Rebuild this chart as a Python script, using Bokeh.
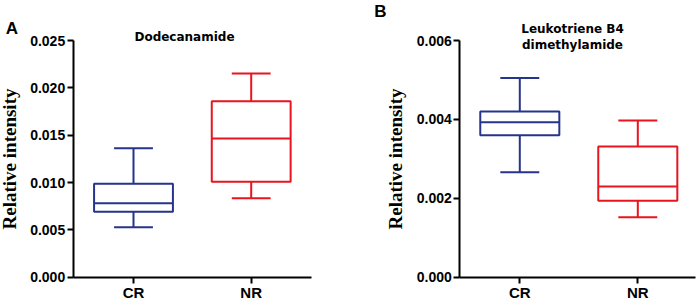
from bokeh.plotting import figure
from bokeh.layouts import row
from bokeh.models import Range1d, FixedTicker, NumeralTickFormatter, Label
from bokeh.embed import file_html
from bokeh.resources import INLINE

groups = ["CR", "NR"]
colors = ["#27348B", "#E8141E"]

# Panel A: Dodecanamide
a_low = [0.00528, 0.00835]
a_q1 = [0.00691, 0.01008]
a_med = [0.00782, 0.01465]
a_q3 = [0.00987, 0.01859]
a_high = [0.01363, 0.02152]
a_ticks = [0.0, 0.005, 0.010, 0.015, 0.020, 0.025]

# Panel B: Leukotriene B4 dimethylamide
b_low = [0.00266, 0.00152]
b_q1 = [0.00360, 0.00194]
b_med = [0.00393, 0.00230]
b_q3 = [0.00420, 0.00331]
b_high = [0.00505, 0.00397]
b_ticks = [0.0, 0.002, 0.004, 0.006]

W, H = 350, 303


def panel(low, q1, med, q3, high, ticks, geom, title_lines, letter, letter_px):
    # geom: pixel positions within this panel's canvas
    ax_left, ax_right, cat1_px, cat2_px, y0_px, ytop_px = geom
    ymax = ticks[-1]
    xs = list(range(1, len(groups) + 1))
    ppu_x = (cat2_px - cat1_px) / (xs[1] - xs[0])
    x_start = xs[0] - cat1_px / ppu_x
    ppu_y = (y0_px - ytop_px) / ymax
    y_end = y0_px / ppu_y
    y_start = -(H - y0_px) / ppu_y

    def dx(px):
        return x_start + px / ppu_x

    def dy(py):
        return (y0_px - py) / ppu_y

    p = figure(width=W, height=H, output_backend="svg", toolbar_location=None,
               x_range=Range1d(x_start, x_start + W / ppu_x),
               y_range=Range1d(y_start, y_end),
               min_border=0, min_border_left=0, min_border_right=0,
               min_border_top=0, min_border_bottom=0)
    p.outline_line_color = None
    p.xgrid.visible = False
    p.ygrid.visible = False
    bw = 0.335
    cw = 0.165
    for i, x in enumerate(xs):
        c = colors[i]
        p.segment(x0=[x], y0=[low[i]], x1=[x], y1=[q1[i]], line_color=c, line_width=2)
        p.segment(x0=[x], y0=[q3[i]], x1=[x], y1=[high[i]], line_color=c, line_width=2)
        p.segment(x0=[x - cw, x - cw], y0=[low[i], high[i]], x1=[x + cw, x + cw],
                  y1=[low[i], high[i]], line_color=c, line_width=2)
        p.quad(left=[x - bw], right=[x + bw], bottom=[q1[i]], top=[q3[i]],
               fill_color="white", line_color=c, line_width=2)
        p.segment(x0=[x - bw], y0=[med[i]], x1=[x + bw], y1=[med[i]], line_color=c, line_width=2)

    xaxis = p.xaxis[0]
    yaxis = p.yaxis[0]
    xaxis.fixed_location = 0.0
    xaxis.bounds = (dx(ax_left), dx(ax_right))
    yaxis.fixed_location = dx(ax_left)
    yaxis.bounds = (0.0, ymax)
    for ax in (xaxis, yaxis):
        ax.axis_line_width = 2
        ax.axis_line_color = "black"
        ax.major_tick_line_width = 2
        ax.major_tick_line_color = "black"
        ax.major_tick_out = 6
        ax.major_tick_in = 0
        ax.minor_tick_line_color = None
        ax.major_label_text_font = "Liberation Sans"
        ax.major_label_text_font_style = "bold"
        ax.major_label_text_color = "black"
    xaxis.ticker = FixedTicker(ticks=xs)
    xaxis.major_label_overrides = {x: g for x, g in zip(xs, groups)}
    xaxis.major_label_text_font_size = "15px"
    xaxis.major_label_standoff = 1
    yaxis.ticker = FixedTicker(ticks=ticks)
    yaxis.formatter = NumeralTickFormatter(format="0.000")
    yaxis.major_label_text_font_size = "14px"
    yaxis.major_label_standoff = 2
    yaxis.axis_label = "Relative intensity"
    yaxis.axis_label_text_font = "Liberation Serif"
    yaxis.axis_label_text_font_style = "bold"
    yaxis.axis_label_text_font_size = "19px"
    yaxis.axis_label_text_color = "black"
    yaxis.axis_label_standoff = 7

    for (tx, ty, t) in title_lines:
        p.add_layout(Label(x=dx(tx), y=dy(ty), text=t, text_align="center", text_baseline="middle",
                           text_font="DejaVu Sans", text_font_style="bold",
                           text_font_size="12px", text_color="black"))
    p.add_layout(Label(x=dx(letter_px[0]), y=dy(letter_px[1]), text=letter, text_align="center",
                       text_baseline="middle", text_font="Liberation Sans",
                       text_font_style="bold", text_font_size="17px", text_color="black"))
    return p


pa = panel(a_low, a_q1, a_med, a_q3, a_high, a_ticks,
           (72.7, 311, 133, 250.7, 276.7, 40),
           [(184, 36, "Dodecanamide")], "A", (11.5, 27.5))
pb = panel(b_low, b_q1, b_med, b_q3, b_high, b_ticks,
           (109.3, 345, 169.3, 287.3, 276.7, 40),
           [(222, 28.5, "Leukotriene B4"), (222, 44.5, "dimethylamide")],
           "B", (30, 10.5))

layout = row(pa, pb)
open("out.html", "w").write(file_html(layout, INLINE))
